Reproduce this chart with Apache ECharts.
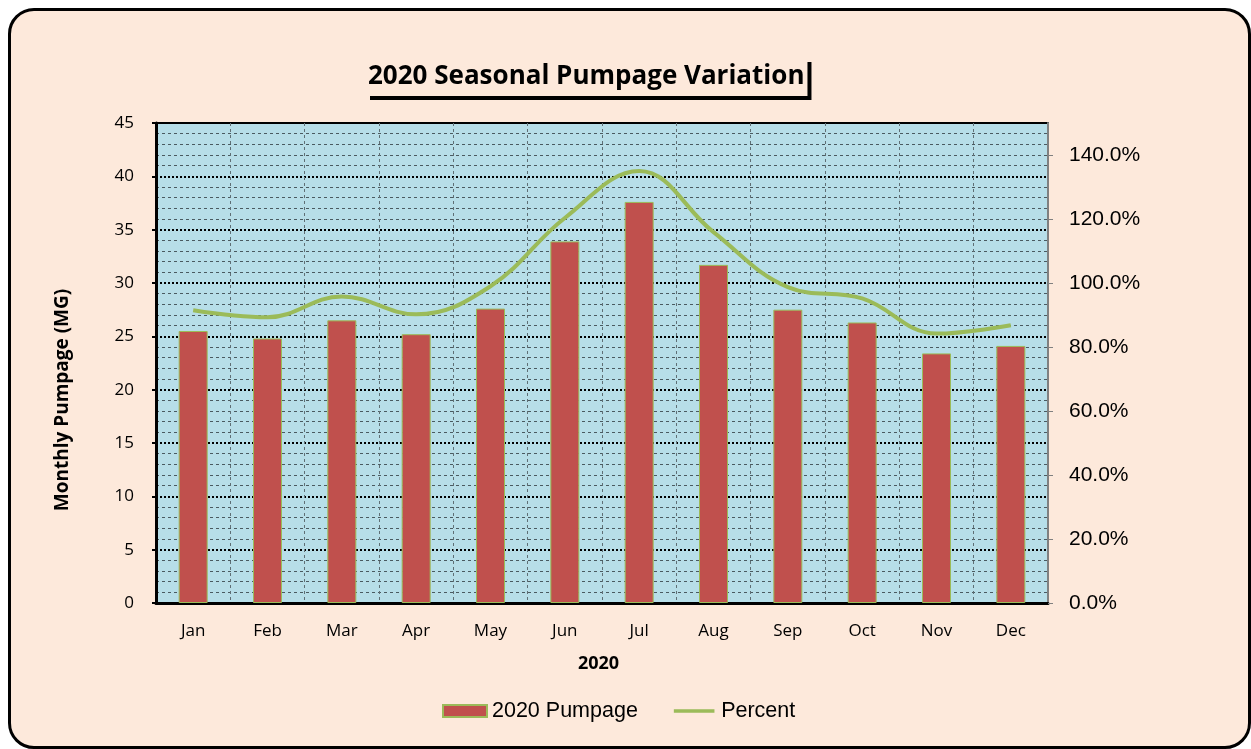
<!DOCTYPE html>
<html>
<head>
<meta charset="utf-8">
<script src="https://cdn.jsdelivr.net/npm/echarts@6/dist/echarts.min.js"></script>
<style>
  html, body { margin: 0; padding: 0; background: #ffffff; }
  #frame {
    position: absolute; left: 8px; top: 8px; width: 1237px; height: 735px;
    background: #FDE9DB; border: 3px solid #000; border-radius: 26px;
  }
  #chart { position: absolute; left: 0; top: 0; width: 1251px; height: 749px; }
</style>
</head>
<body>
<div id="frame"></div>
<div id="chart"></div>
<script>
// Monthly pumpage for 2020 (million gallons) and percent of the monthly average
const months = ['Jan', 'Feb', 'Mar', 'Apr', 'May', 'Jun', 'Jul', 'Aug', 'Sep', 'Oct', 'Nov', 'Dec'];
const pumpage = [25.5, 24.8, 26.5, 25.2, 27.6, 33.9, 37.6, 31.7, 27.5, 26.3, 23.4, 24.1];
const percent = [91.5, 89.3, 95.8, 90.2, 99.0, 120.3, 135.0, 115.9, 98.7, 95.2, 84.2, 86.8];

// thin horizontal bar used as the line-series legend key
const lineKey = 'path://M0,0L1,0L1,0Z M0,4.5L44,4.5L44,8.5L0,8.5Z M0,13L1,13L1,13Z';

const chart = echarts.init(document.getElementById('chart'), null, { renderer: 'canvas' });

chart.setOption({
  backgroundColor: 'transparent',
  animation: false,
  title: {
    text: '2020 Seasonal Pumpage Variation',
    left: 366, top: 58,
    padding: [6, 3, 6, 2],
    backgroundColor: '#FDE9DB',
    shadowColor: '#000', shadowBlur: 0, shadowOffsetX: 4, shadowOffsetY: 4,
    textStyle: { fontFamily: 'Open Sans', fontWeight: 'bold', fontSize: 26, color: '#000' }
  },
  legend: {
    bottom: 22, left: 437,
    itemWidth: 44, itemHeight: 12, itemGap: 36,
    textStyle: { fontFamily: 'Liberation Sans', fontSize: 21.5, color: '#000' },
    data: [
      { name: '2020 Pumpage', icon: 'rect' },
      { name: 'Percent', icon: lineKey, itemStyle: { color: '#9BBB59', borderWidth: 0 } }
    ]
  },
  grid: {
    left: 156, top: 123, width: 892, height: 480,
    show: true, backgroundColor: '#B7DEE8', borderColor: '#000', borderWidth: 2
  },
  xAxis: {
    type: 'category',
    data: months,
    name: '2020', nameLocation: 'middle', nameGap: 52,
    nameTextStyle: { fontFamily: 'Open Sans', fontWeight: 'bold', fontSize: 18, color: '#000', padding: [0, 7, 0, 0] },
    axisLine: { lineStyle: { color: '#000', width: 3 } },
    axisTick: { show: true, inside: true, alignWithLabel: true, length: 5, lineStyle: { color: '#000', width: 2 } },
    axisLabel: { fontFamily: 'Open Sans', fontSize: 17, color: '#000', margin: 20 },
    splitLine: { show: true, interval: 0, lineStyle: { color: '#5f6f75', type: [3, 3], width: 1 } }
  },
  yAxis: [
    {
      type: 'value', min: 0, max: 45, interval: 5,
      name: 'Monthly Pumpage (MG)', nameLocation: 'middle', nameGap: 84,
      nameTextStyle: { fontFamily: 'Open Sans', fontWeight: 'bold', fontSize: 19, color: '#000', padding: [0, 74, 0, 0] },
      axisLine: { show: true, lineStyle: { color: '#000', width: 3 } },
      axisTick: { show: true, length: 4, lineStyle: { color: '#000', width: 2 } },
      axisLabel: { fontFamily: 'Open Sans', fontSize: 17, color: '#000', margin: 22 },
      splitLine: { show: true, lineStyle: { color: '#000', type: [2, 2], width: 2 } },
      minorTick: { show: false, splitNumber: 5 },
      minorSplitLine: { show: true, lineStyle: { color: '#4a5a60', type: [3, 3], width: 1 } }
    },
    {
      type: 'value', min: 0, max: 150, interval: 20,
      position: 'right',
      axisLine: { show: true, lineStyle: { color: '#808080', width: 2 } },
      axisTick: { show: true, length: 5, lineStyle: { color: '#808080', width: 1 } },
      axisLabel: {
        fontFamily: 'Liberation Sans', fontSize: 21, color: '#000', margin: 21,
        showMaxLabel: false,
        formatter: v => v.toFixed(1) + '%'
      },
      splitLine: { show: false }
    }
  ],
  series: [
    {
      name: '2020 Pumpage',
      type: 'bar',
      data: pumpage,
      barWidth: 29,
      itemStyle: { color: '#C0504D', borderColor: '#9BBB59', borderWidth: 1 },
      z: 2
    },
    {
      name: 'Percent',
      type: 'line',
      yAxisIndex: 1,
      data: percent,
      smooth: 0.4,
      showSymbol: false,
      symbol: 'none',
      lineStyle: { color: '#9BBB59', width: 4 },
      itemStyle: { color: '#9BBB59' },
      z: 3
    }
  ]
});
</script>
</body>
</html>
